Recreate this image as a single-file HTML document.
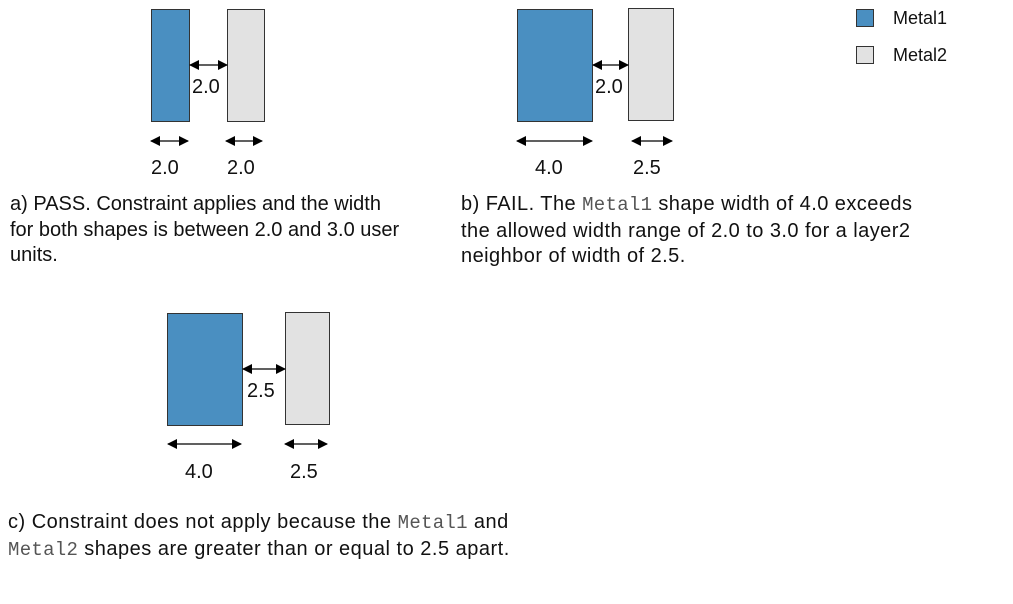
<!DOCTYPE html>
<html><head><style>
body{margin:0;width:1013px;height:604px;background:#fff;position:relative;font-family:"Liberation Sans",sans-serif;color:#111;overflow:hidden}
.t{position:absolute;font-size:20px;line-height:25.5px;white-space:nowrap}
.m{font-family:"Liberation Mono",monospace;color:#555;font-size:19px;letter-spacing:0.3px}
svg{position:absolute;left:0;top:0}
</style></head><body>
<svg width="1013" height="604" font-family="Liberation Sans, sans-serif" font-size="20" fill="#111">
<defs><marker id="a" markerWidth="10" markerHeight="10" refX="9" refY="5" orient="auto-start-reverse" markerUnits="userSpaceOnUse"><path d="M0,0 L10,5 L0,10z" fill="#000"/></marker></defs>
<g stroke="#333" stroke-width="1">
<rect x="151.5" y="9.5" width="38" height="112" fill="#4a8fc1"/>
<rect x="227.5" y="9.5" width="37" height="112" fill="#e2e2e2"/>
<rect x="517.5" y="9.5" width="75" height="112" fill="#4a8fc1"/>
<rect x="628.5" y="8.5" width="45" height="112" fill="#e2e2e2"/>
<rect x="167.5" y="313.5" width="75" height="112" fill="#4a8fc1"/>
<rect x="285.5" y="312.5" width="44" height="112" fill="#e2e2e2"/>
<rect x="856.5" y="9.5" width="17" height="17" fill="#4a8fc1"/>
<rect x="856.5" y="46.5" width="17" height="17" fill="#e2e2e2"/>
</g>
<g stroke="#000" stroke-width="1.3" marker-start="url(#a)" marker-end="url(#a)">
<line x1="190" y1="65" x2="227" y2="65"/>
<line x1="151" y1="141" x2="188" y2="141"/>
<line x1="226" y1="141" x2="262" y2="141"/>
<line x1="593" y1="65" x2="628" y2="65"/>
<line x1="517" y1="141" x2="592" y2="141"/>
<line x1="632" y1="141" x2="672" y2="141"/>
<line x1="243" y1="369" x2="285" y2="369"/>
<line x1="168" y1="444" x2="241" y2="444"/>
<line x1="285" y1="444" x2="327" y2="444"/>
</g>
<text x="192" y="93">2.0</text>
<text x="151" y="174">2.0</text>
<text x="227" y="174">2.0</text>
<text x="535" y="174">4.0</text>
<text x="595" y="93">2.0</text>
<text x="633" y="174">2.5</text>
<text x="247" y="397">2.5</text>
<text x="185" y="478">4.0</text>
<text x="290" y="478">2.5</text>
<text x="893" y="24" font-size="18">Metal1</text>
<text x="893" y="61" font-size="18">Metal2</text>
</svg>
<div class="t" style="left:10px;top:192px">a) PASS. Constraint applies and the width<br>for both shapes is between 2.0 and 3.0 user<br>units.</div>
<div class="t" style="left:461px;top:192px;letter-spacing:0.45px">b) FAIL. The <span class="m">Metal1</span> shape width of 4.0 exceeds<br>the allowed width range of 2.0 to 3.0 for a layer2<br>neighbor of width of 2.5.</div>
<div class="t" style="left:8px;top:510px;letter-spacing:0.5px">c) Constraint does not apply because the <span class="m">Metal1</span> and<br><span class="m">Metal2</span> shapes are greater than or equal to 2.5 apart.</div>
</body></html>
